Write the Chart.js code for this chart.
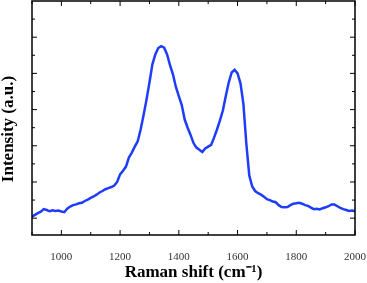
<!DOCTYPE html>
<html>
<head>
<meta charset="utf-8">
<script src="https://cdn.jsdelivr.net/npm/chart.js@4.4.1/dist/chart.umd.min.js"></script>
<style>
  html, body { margin: 0; padding: 0; background: #fff; }
  #wrap { width: 367px; height: 283px; }
</style>
</head>
<body>
<div id="wrap"><canvas id="raman-chart"></canvas></div>
<script>
var ramanShift = [];
for (var s = 900; s <= 2000; s += 10) ramanShift.push(s);

// Intensidad (u.a.) leida a ojo de la imagen
var intensity = [
  0.08, 0.18, 0.28, 0.36, 0.50, 0.45, 0.38, 0.43, 0.40, 0.42,
  0.37, 0.33, 0.52, 0.64, 0.72, 0.76, 0.82, 0.85, 0.95, 1.03,
  1.12, 1.20, 1.30, 1.42, 1.50, 1.60, 1.66, 1.72, 1.80, 2.00,
  2.42, 2.62, 2.85, 3.35, 3.62, 3.95, 4.25, 4.90, 5.70, 6.55,
  7.50, 8.50, 9.05, 9.40, 9.50, 9.42, 9.05, 8.45, 7.95, 7.25,
  6.75, 6.25, 5.45, 5.00, 4.60, 4.15, 3.90, 3.78, 3.65, 3.85,
  3.95, 4.05, 4.45, 4.90, 5.40, 5.95, 6.75, 7.50, 8.05, 8.20,
  8.00, 7.45, 6.30, 4.10, 2.35, 1.75, 1.50, 1.38, 1.30, 1.18,
  1.05, 1.00, 0.92, 0.88, 0.72, 0.62, 0.60, 0.62, 0.72, 0.80,
  0.82, 0.85, 0.80, 0.72, 0.68, 0.58, 0.50, 0.52, 0.48, 0.55,
  0.60, 0.66, 0.76, 0.75, 0.66, 0.57, 0.50, 0.45, 0.40, 0.42,
  0.38
];

// Etiquetas del eje x
var xTickLabels = [1000, 1200, 1400, 1600, 1800, 2000];
var yTickValues = [0, 1, 2, 3, 4, 5, 6, 7, 8, 9, 10, 11];
var yTitle = 'Intensity (a.u.)';

var points = ramanShift.map(function (x, i) { return { x: x, y: intensity[i] }; });

// Marco, marcas hacia dentro y titulo del eje y
var innerTicks = {
  id: 'innerTicks',
  afterDraw: function (chart) {
    var ctx = chart.ctx, a = chart.chartArea;
    var xs = chart.scales.x, ys = chart.scales.y;
    ctx.save();
    ctx.strokeStyle = '#000';
    ctx.lineWidth = 1;
    ctx.beginPath();
    for (var v = 900; v <= 2000; v += 100) {
      var px = xs.getPixelForValue(v);
      var len = xTickLabels.indexOf(v) >= 0 ? 5 : 3;
      ctx.moveTo(px, a.bottom); ctx.lineTo(px, a.bottom - len);
      ctx.moveTo(px, a.top); ctx.lineTo(px, a.top + len);
    }
    yTickValues.forEach(function (v) {
      var py = ys.getPixelForValue(v);
      var len = v % 2 === 0 ? 5 : 3;
      ctx.moveTo(a.left, py); ctx.lineTo(a.left + len, py);
      ctx.moveTo(a.right, py); ctx.lineTo(a.right - len, py);
    });
    ctx.stroke();
    ctx.lineWidth = 1.5;
    ctx.strokeRect(a.left, a.top, a.right - a.left, a.bottom - a.top);

    ctx.translate(9, 129);
    ctx.rotate(-Math.PI / 2);
    ctx.fillStyle = '#000';
    ctx.font = 'bold 17px "Liberation Serif"';
    ctx.textAlign = 'center';
    ctx.textBaseline = 'middle';
    ctx.fillText(yTitle, 0, 0);
    ctx.restore();
  }
};

var ctx = document.getElementById('raman-chart').getContext('2d');
var ramanChart = new Chart(ctx, {
  type: 'line',
  data: {
    datasets: [{
      data: points,
      borderColor: 'rgb(30, 60, 250)',
      borderWidth: 2.5,
      pointRadius: 0,
      tension: 0,
      fill: false
    }]
  },
  options: {
    responsive: true,
    maintainAspectRatio: false,
    animation: false,
    layout: { padding: { top: 1, right: 12, left: 0, bottom: 0 } },
    plugins: { legend: { display: false }, tooltip: { enabled: false } },
    scales: {
      x: {
        type: 'linear',
        min: 900,
        max: 2000,
        grid: { display: false },
        border: { display: false },
        afterFit: function (scale) {
          scale.height = 48;
          scale.paddingLeft = 0;
          scale.paddingRight = 0;
        },
        ticks: {
          stepSize: 100,
          autoSkip: false,
          maxRotation: 0,
          padding: 8,
          color: '#333',
          font: { family: 'Liberation Serif', size: 11 },
          callback: function (v) { return xTickLabels.indexOf(v) >= 0 ? String(v) : ''; }
        },
        title: {
          display: true,
          text: 'Raman shift (cm\u207B\u00B9)',
          color: '#000',
          padding: { top: 0, bottom: 0 },
          font: { family: 'Liberation Serif', size: 17, weight: 'bold' }
        }
      },
      y: {
        min: -0.93,
        max: 12,
        grid: { display: false },
        border: { display: false },
        afterFit: function (scale) { scale.width = 32; },
        ticks: { display: false },
        title: { display: false }
      }
    }
  },
  plugins: [innerTicks]
});
</script>
</body>
</html>
